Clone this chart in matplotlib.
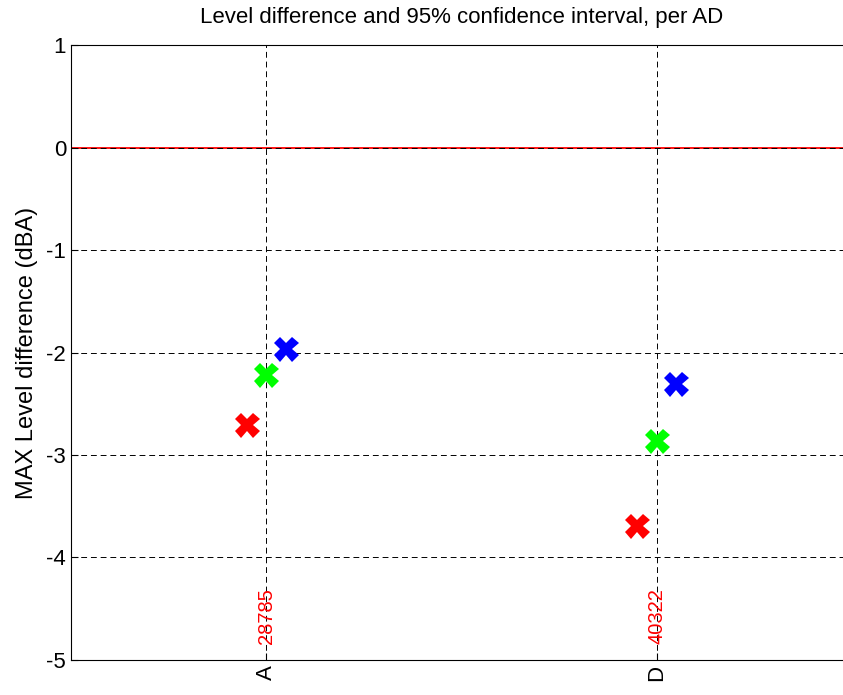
import numpy as np
import matplotlib.pyplot as plt

plt.rcParams['font.family'] = ['Liberation Sans', 'DejaVu Sans']
plt.rcParams['axes.unicode_minus'] = False

groups = ['A', 'D']
counts = ['28785', '40322']
offsets = [-0.05, 0.0, 0.05]
colors = ['#ff0000', '#00ff00', '#0000ff']
red_vals = [-2.71, -3.69]
green_vals = [-2.22, -2.86]
blue_vals = [-1.97, -2.31]
series = [red_vals, green_vals, blue_vals]

fig = plt.figure(figsize=(8.43, 6.95), dpi=100)
# the plot area runs past the right edge of the figure, as in the original
ax = fig.add_axes([0.0842, 0.0504, 0.9658, 0.8848])
ax.patch.set_edgecolor('none')

x = np.arange(1, len(groups) + 1)
ax.axhline(0, color='red', lw=1.3, zorder=1)
for vals, off, c in zip(series, offsets, colors):
    ax.plot(x + off, vals, 'X', color=c, markersize=18, markeredgewidth=0, zorder=3)

for xi, txt in zip(x, counts):
    ax.text(xi, -4.84, txt, rotation=90, color='red', ha='center', va='bottom', fontsize=14.5)

ax.set_xlim(0.5, 2.585)
ax.set_ylim(-5, 1)
ax.set_xticks(x)
ax.set_xticklabels(groups, rotation=90, fontsize=16)
ax.set_yticks(range(-5, 2))
ax.tick_params(axis='y', labelsize=16, right=False)
ax.tick_params(direction='in', length=5)
ax.spines['right'].set_visible(False)
ax.grid(True, color='black', linestyle=(0, (6, 4)), linewidth=0.7, zorder=2)
ax.set_axisbelow(False)
ax.set_ylabel('MAX Level difference (dBA)', fontsize=17, labelpad=6)
fig.text(0.5475, 0.975, 'Level difference and 95% confidence interval, per AD',
         fontsize=16, ha='center', va='center')

fig.savefig('out.png', dpi=100)
